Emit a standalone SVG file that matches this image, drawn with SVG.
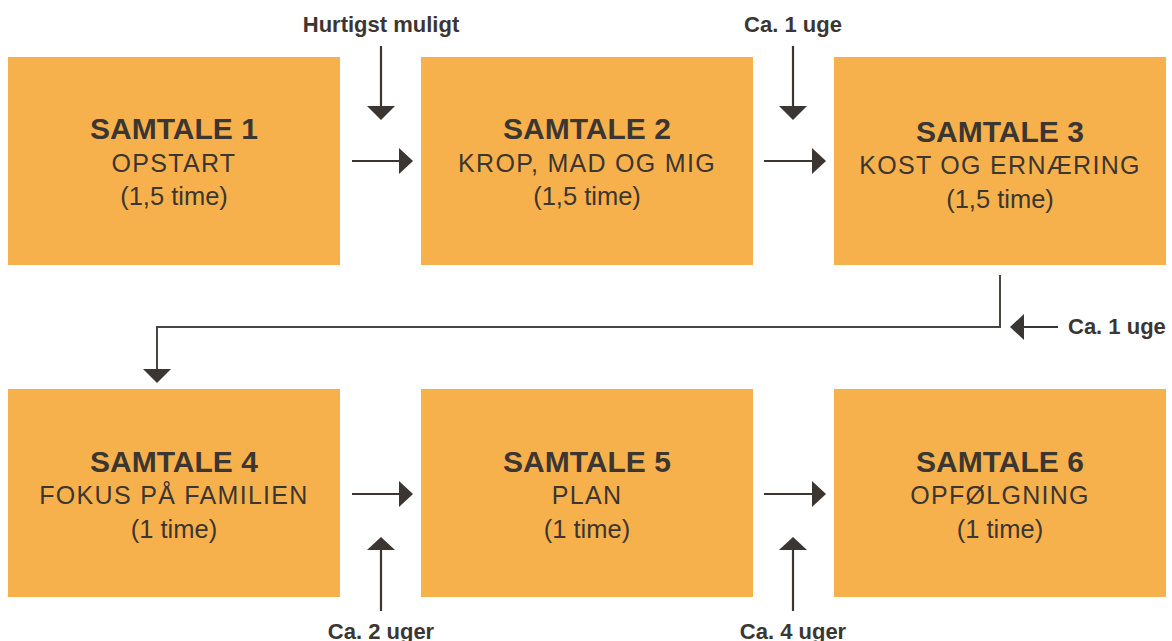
<svg xmlns="http://www.w3.org/2000/svg" width="1172" height="641" viewBox="0 0 1172 641">
<style>
.box{fill:#F7B14C}
.t1{font-family:"Liberation Sans",Arial,sans-serif;font-weight:bold;font-size:30px;fill:#3b3631;text-anchor:middle}
.t2{font-family:"Liberation Sans",Arial,sans-serif;font-size:25px;letter-spacing:1.3px;fill:#3b3631;text-anchor:middle}
.t3{font-family:"Liberation Sans",Arial,sans-serif;font-size:25.5px;fill:#3b3631;text-anchor:middle}
.lbl{font-family:"Liberation Sans",Arial,sans-serif;font-weight:bold;font-size:22px;fill:#3b3631;text-anchor:middle}
.ln{stroke:#3b3631;stroke-width:2.2;fill:none}
.ln2{stroke:#4a4541;stroke-width:2;fill:none}
.ah{fill:#3b3631}
</style>
<rect width="1172" height="641" fill="#ffffff"/>
<g id="samtale1"><rect class="box" x="8" y="57" width="332" height="208"/>
<text class="t1" x="174" y="139">SAMTALE 1</text><text class="t2" x="174" y="172">OPSTART</text><text class="t3" x="174" y="205">(1,5 time)</text></g>
<g id="samtale2"><rect class="box" x="421" y="57" width="332" height="208"/>
<text class="t1" x="587" y="139">SAMTALE 2</text><text class="t2" x="587" y="172">KROP, MAD OG MIG</text><text class="t3" x="587" y="205">(1,5 time)</text></g>
<g id="samtale3"><rect class="box" x="834" y="57" width="332" height="208"/>
<text class="t1" x="1000" y="142">SAMTALE 3</text><text class="t2" x="1000" y="174">KOST OG ERNÆRING</text><text class="t3" x="1000" y="208">(1,5 time)</text></g>
<g id="samtale4"><rect class="box" x="8" y="389" width="332" height="208"/>
<text class="t1" x="174" y="472">SAMTALE 4</text><text class="t2" x="174" y="504">FOKUS PÅ FAMILIEN</text><text class="t3" x="174" y="538">(1 time)</text></g>
<g id="samtale5"><rect class="box" x="421" y="389" width="332" height="208"/>
<text class="t1" x="587" y="472">SAMTALE 5</text><text class="t2" x="587" y="504">PLAN</text><text class="t3" x="587" y="538">(1 time)</text></g>
<g id="samtale6"><rect class="box" x="834" y="389" width="332" height="208"/>
<text class="t1" x="1000" y="472">SAMTALE 6</text><text class="t2" x="1000" y="504">OPFØLGNING</text><text class="t3" x="1000" y="538">(1 time)</text></g>
<g id="connectors">
<line class="ln" x1="352" y1="161" x2="400" y2="161"/><polygon class="ah" points="399,148 413,161 399,174"/>
<line class="ln" x1="764" y1="161" x2="813" y2="161"/><polygon class="ah" points="812,148 826,161 812,174"/>
<line class="ln" x1="352" y1="494" x2="400" y2="494"/><polygon class="ah" points="399,481 413,494 399,507"/>
<line class="ln" x1="764" y1="494" x2="813" y2="494"/><polygon class="ah" points="812,481 826,494 812,507"/>
<line class="ln" x1="381" y1="46" x2="381" y2="107"/><polygon class="ah" points="367,106 395,106 381,120"/>
<line class="ln" x1="793" y1="46" x2="793" y2="107"/><polygon class="ah" points="779,106 807,106 793,120"/>
<line class="ln" x1="381" y1="611" x2="381" y2="549"/><polygon class="ah" points="367,550 395,550 381,537"/>
<line class="ln" x1="793" y1="611" x2="793" y2="549"/><polygon class="ah" points="779,550 807,550 793,537"/>
<polyline class="ln2" points="1000,275 1000,327 157,327 157,370"/><polygon class="ah" points="143,369 171,369 157,383"/>
<line class="ln" x1="1058" y1="327" x2="1023" y2="327"/><polygon class="ah" points="1024,314 1024,340 1010,327"/>
</g>
<g id="labels">
<text class="lbl" x="381" y="32">Hurtigst muligt</text>
<text class="lbl" x="793" y="32">Ca. 1 uge</text>
<text class="lbl" x="1068" y="334" text-anchor="start" style="text-anchor:start">Ca. 1 uge</text>
<text class="lbl" x="381" y="639">Ca. 2 uger</text>
<text class="lbl" x="793" y="639">Ca. 4 uger</text>
</g>
</svg>
